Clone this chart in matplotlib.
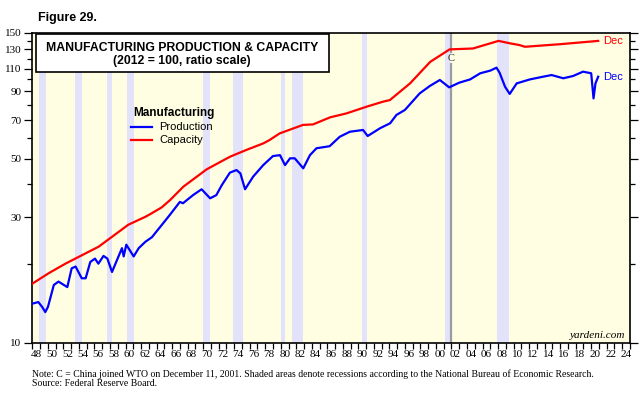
import matplotlib
matplotlib.use("Agg")
import matplotlib.pyplot as plt
from matplotlib.patches import Rectangle
from matplotlib.ticker import FixedLocator, NullFormatter, FixedFormatter

# ---- data ----
cap_years = [1948.0, 1950.1, 1952.26, 1956.54, 1960.36, 1962.54, 1963.16, 1964.66, 1965.76,
             1967.46, 1970.46, 1973.46, 1975.56, 1977.76, 1978.56, 1979.86, 1982.86, 1984.16,
             1986.36, 1988.46, 1991.06, 1993.16, 1994.06, 1995.36, 1996.66, 1999.26, 2001.76,
             2004.76, 2008.06, 2009.56, 2010.76, 2011.46, 2015.96, 2020.9]
cap_values = [16.8, 18.4, 20.0, 23.2, 28.1, 30.1, 30.8, 32.7, 34.9,
              39.2, 45.6, 50.9, 54.0, 57.2, 58.9, 62.4, 67.2, 67.5,
              71.8, 74.3, 78.8, 82.3, 83.5, 89.8, 96.6, 116.6, 130.0,
              131.0, 140.0, 137.0, 135.0, 133.0, 136.0, 140.0]

prod_years = [1948.0, 1948.76, 1949.26, 1949.66, 1950.0, 1950.76, 1951.36, 1952.06, 1952.5,
              1953.06, 1953.56, 1954.36, 1954.86, 1955.46, 1956.06, 1956.5, 1957.16, 1957.66,
              1958.26, 1959.54, 1959.76, 1960.1, 1961.05, 1961.7, 1962.55, 1963.4, 1964.86,
              1965.7, 1967.0, 1967.4, 1968.7, 1969.8, 1970.9, 1971.7, 1972.4, 1973.45,
              1974.3, 1974.8, 1975.4, 1976.45, 1977.74, 1979.0, 1979.9, 1980.55, 1981.2,
              1981.8, 1982.9, 1983.76, 1984.6, 1986.3, 1987.6, 1988.9, 1990.6, 1991.2,
              1992.8, 1994.1, 1994.9, 1996.0, 1997.9, 1999.2, 2000.5, 2001.7, 2003.0,
              2004.4, 2005.7, 2007.0, 2007.8, 2008.2, 2008.9, 2009.5, 2010.4, 2012.1,
              2013.8, 2014.9, 2016.4, 2017.65, 2018.95, 2020.0, 2020.3, 2020.55, 2020.9]
prod_values = [14.1, 14.3, 13.7, 13.1, 13.7, 16.6, 17.1, 16.6, 16.3,
               19.2, 19.5, 17.6, 17.6, 20.3, 20.9, 20.0, 21.4, 20.9,
               18.6, 22.9, 21.3, 23.6, 21.3, 22.9, 24.2, 25.2, 28.5,
               30.6, 34.3, 33.9, 36.4, 38.3, 35.4, 36.4, 39.7, 44.3,
               45.3, 44.0, 38.3, 42.8, 47.3, 51.2, 51.6, 47.3, 50.2,
               50.2, 46.0, 51.6, 54.8, 55.8, 60.6, 63.3, 64.3, 61.0,
               65.3, 68.2, 73.3, 76.6, 88.5, 94.4, 99.5, 93.3, 97.2,
               100.0, 105.5, 108.0, 110.8, 106.0, 93.8, 88.1, 96.6, 100.0,
               102.4, 103.9, 101.0, 103.0, 107.0, 105.5, 84.7, 96.6, 102.4]

rec_start = [1948.87, 1953.5, 1957.6, 1960.25, 1969.92, 1973.83, 1980.0, 1981.5, 1990.5, 2001.17, 2007.92]
rec_end = [1949.75, 1954.33, 1958.25, 1961.08, 1970.83, 1975.17, 1980.5, 1982.83, 1991.17, 2001.83, 2009.42]

wto_year = 2001.95
ytick_major = [10, 30, 50, 70, 90, 110, 130, 150]
ytick_minor = [20, 40, 60, 80, 100, 120, 140]
first_year, last_year = 1948, 2025

SANS = "Liberation Sans"
SERIF = "Liberation Serif"

fig = plt.figure(figsize=(6.4, 3.93), dpi=100)
ax = fig.add_axes([32.4 / 640, 1 - 343 / 393, (630 - 32.4) / 640, (343 - 33) / 393])
ax.set_facecolor("#fffee2")

for s, e in zip(rec_start, rec_end):
    ax.axvspan(s, e, color="#e2e2fa", lw=0, zorder=1)

ax.axvline(wto_year, ymin=0, ymax=0.90, color="#9a9aa4", lw=1.6, zorder=2)
ax.axvline(wto_year, ymin=0.94, ymax=1.0, color="#9a9aa4", lw=1.6, zorder=2)
ax.text(wto_year, 10 ** (1 + 0.918 * 1.17609), "C", ha="center", va="center",
        fontsize=7.5, family=SERIF, color="#222222", zorder=3)

ax.plot(cap_years, cap_values, color="#ff0000", lw=1.6, zorder=4)
ax.plot(prod_years, prod_values, color="#0000ff", lw=1.6, zorder=4)

ax.set_yscale("log")
ax.set_ylim(10, 150)
ax.set_xlim(first_year, last_year)

ax.yaxis.set_major_locator(FixedLocator(ytick_major))
ax.yaxis.set_major_formatter(FixedFormatter([str(v) for v in ytick_major]))
ax.yaxis.set_minor_locator(FixedLocator(ytick_minor))
ax.yaxis.set_minor_formatter(NullFormatter())
ax.tick_params(axis="y", which="major", direction="out", length=6, width=0.9,
               left=True, right=True, labelsize=8, pad=2)
ax.tick_params(axis="y", which="minor", direction="out", length=3.5, width=0.9,
               left=True, right=True)

years = list(range(first_year, last_year + 1))
ax.xaxis.set_major_locator(FixedLocator(years))
ax.xaxis.set_major_formatter(NullFormatter())
lab_pos = [y + 0.5 for y in range(first_year, last_year, 2)]
ax.xaxis.set_minor_locator(FixedLocator(lab_pos))
ax.xaxis.set_minor_formatter(FixedFormatter(["%02d" % (int(p) % 100) for p in lab_pos]))
ax.tick_params(axis="x", which="major", direction="out", length=4, width=0.9)
ax.tick_params(axis="x", which="minor", length=0, labelsize=8, pad=5)

for lab in ax.get_xticklabels(minor=True) + ax.get_yticklabels():
    lab.set_family(SERIF)

for sp in ax.spines.values():
    sp.set_linewidth(1.2)

# title box
fig.patches.append(Rectangle((36 / 640, 1 - 72 / 393), (329 - 36) / 640, (72 - 34) / 393,
                             transform=fig.transFigure, facecolor="white", edgecolor="black",
                             lw=1.2, zorder=5))
fig.text(182 / 640, 1 - 48 / 393, "MANUFACTURING PRODUCTION & CAPACITY", ha="center", va="center",
         fontsize=8.8, fontweight="bold", family=SANS, zorder=6)
fig.text(182 / 640, 1 - 61 / 393, "(2012 = 100, ratio scale)", ha="center", va="center",
         fontsize=8.8, fontweight="bold", family=SANS, zorder=6)
fig.text(38 / 640, 1 - 18 / 393, "Figure 29.", ha="left", va="center",
         fontsize=9, fontweight="bold", family=SANS)

# legend
fig.text(133 / 640, 1 - 113 / 393, "Manufacturing", ha="left", va="center",
         fontsize=8.5, fontweight="bold", family=SANS)
fig.add_artist(plt.Line2D([131 / 640, 152 / 640], [1 - 127 / 393] * 2, color="#0000ff", lw=1.6,
                          transform=fig.transFigure))
fig.add_artist(plt.Line2D([131 / 640, 152 / 640], [1 - 140 / 393] * 2, color="#ff0000", lw=1.6,
                          transform=fig.transFigure))
fig.text(159 / 640, 1 - 127 / 393, "Production", ha="left", va="center", fontsize=8, family=SANS)
fig.text(159 / 640, 1 - 140 / 393, "Capacity", ha="left", va="center", fontsize=8, family=SANS)

# end labels
fig.text(603 / 640, 1 - 41 / 393, "Dec", ha="left", va="center", fontsize=8, family=SANS, color="#ff0000")
fig.text(603 / 640, 1 - 77 / 393, "Dec", ha="left", va="center", fontsize=8, family=SANS, color="#0000ff")

fig.text(625 / 640, 1 - 335 / 393, "yardeni.com", ha="right", va="center", fontsize=8,
         family=SERIF, style="italic")

fig.text(32 / 640, 1 - 374 / 393,
         "Note: C = China joined WTO on December 11, 2001. Shaded areas denote recessions according to the National Bureau of Economic Research.",
         ha="left", va="center", fontsize=7.05, family=SERIF)
fig.text(32 / 640, 1 - 384 / 393, "Source: Federal Reserve Board.", ha="left", va="center",
         fontsize=7.05, family=SERIF)

fig.savefig("out.png", dpi=100)
